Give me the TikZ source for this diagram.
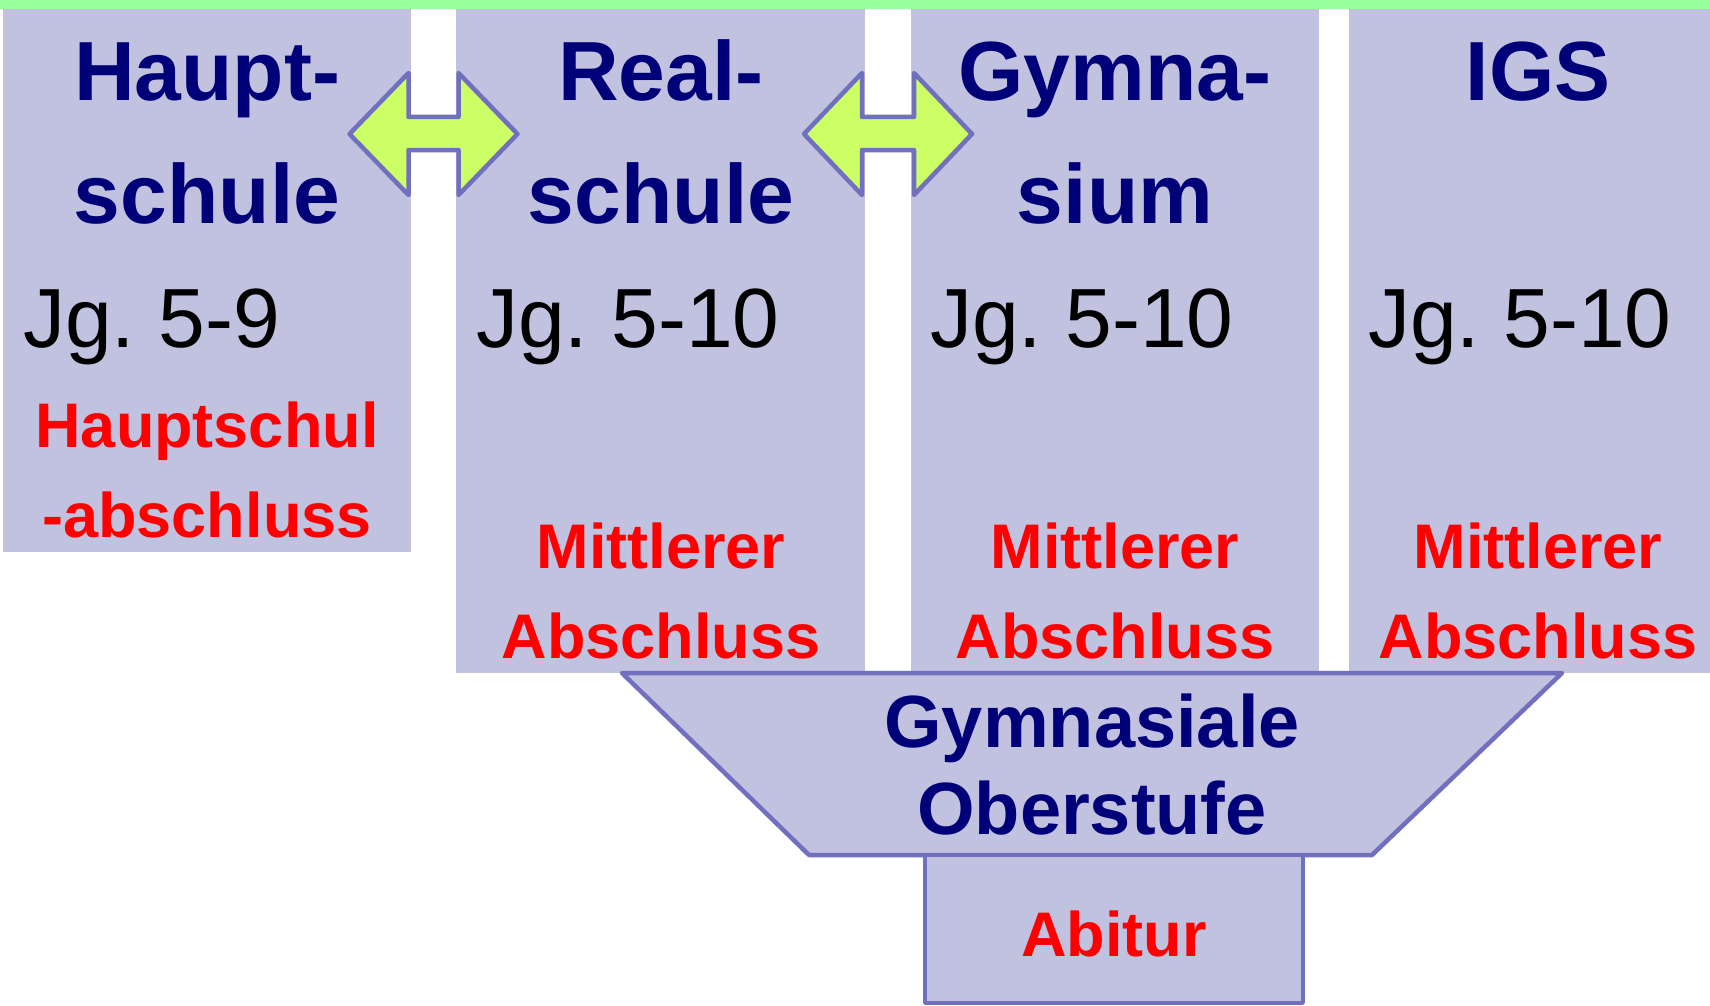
\documentclass[tikz,border=0pt]{standalone}
\usepackage{fontspec}
\setmainfont{Liberation Sans}
\frenchspacing
\definecolor{colfill}{RGB}{193,193,224}
\definecolor{topgreen}{RGB}{153,255,153}
\definecolor{edgeblue}{RGB}{112,112,190}
\definecolor{arrowfill}{RGB}{204,255,102}
\definecolor{titleblue}{RGB}{0,0,120}
\definecolor{redtext}{RGB}{255,0,0}
\tikzset{
  colbox/.style={fill=colfill,draw=none,inner sep=0pt,anchor=north west},
  title/.style={anchor=base,inner sep=0pt,text=titleblue,font=\fontsize{84}{84}\selectfont\bfseries},
  jg/.style={anchor=base west,inner sep=0pt,text=black,font=\fontsize{84}{84}\selectfont},
  redlbl/.style={anchor=base,inner sep=0pt,text=redtext,font=\fontsize{63}{63}\selectfont\bfseries},
  oberlbl/.style={anchor=base,inner sep=0pt,text=titleblue,font=\fontsize{74}{74}\selectfont\bfseries},
  dblarrow/.style={fill=arrowfill,draw=edgeblue,line width=4.5pt,line join=round},
  edgeshape/.style={fill=colfill,draw=edgeblue,line width=4.5pt,line join=round},
}
\begin{document}
\begin{tikzpicture}[x=1pt,y=-1pt]
\useasboundingbox (0,0) rectangle (1710,1006);
\fill[topgreen] (0,0) rectangle (1710,9);
% columns
\node[colbox,minimum width=408pt,minimum height=543pt] (c1) at (3,9) {};
\node[colbox,minimum width=409pt,minimum height=664pt] (c2) at (456,9) {};
\node[colbox,minimum width=408pt,minimum height=664pt] (c3) at (911,9) {};
\node[colbox,minimum width=361pt,minimum height=664pt] (c4) at (1349,9) {};
% double arrows
\draw[dblarrow] (349.5,134) -- (408.5,73) -- (408.5,117) -- (458.5,117) -- (458.5,73) -- (517.5,134) -- (458.5,195) -- (458.5,150) -- (408.5,150) -- (408.5,195) -- cycle;
\draw[dblarrow] (804,134) -- (862,73) -- (862,117) -- (914,117) -- (914,73) -- (972,134) -- (914,195) -- (914,150) -- (862,150) -- (862,195) -- cycle;
% titles
\node[title] (t1a) at (207,101) {Haupt-};
\node[title] (t1b) at (207,223) {schule};
\node[title] (t2a) at (661,101) {Real-};
\node[title] (t2b) at (661,223) {schule};
\node[title] (t3a) at (1115,101) {Gymna-};
\node[title] (t3b) at (1115,223) {sium};
\node[title] (t4a) at (1538,101) {IGS};
% grades
\node[jg] (g1) at (23,347) {Jg. 5-9};
\node[jg] (g2) at (476,347) {Jg. 5-10};
\node[jg] (g3) at (930,347) {Jg. 5-10};
\node[jg] (g4) at (1368,347) {Jg. 5-10};
% certificates
\node[redlbl] (r1a) at (207,447) {Hauptschul};
\node[redlbl] (r1b) at (207,537) {-abschluss};
\node[redlbl] (r2a) at (661,568) {Mittlerer};
\node[redlbl] (r2b) at (661,658) {Abschluss};
\node[redlbl] (r3a) at (1115,568) {Mittlerer};
\node[redlbl] (r3b) at (1115,658) {Abschluss};
\node[redlbl] (r4a) at (1538,568) {Mittlerer};
\node[redlbl] (r4b) at (1538,658) {Abschluss};
% upper secondary
\draw[edgeshape] (622,673) -- (1562,673) -- (1372,855) -- (809,855) -- cycle;
\node[oberlbl] (o1) at (1092,747) {Gymnasiale};
\node[oberlbl] (o2) at (1092,834) {Oberstufe};
\draw[edgeshape,line width=3.5pt] (925,855) rectangle (1303,1003);
\node[redlbl] (ab) at (1114,956) {Abitur};
\end{tikzpicture}
\end{document}
